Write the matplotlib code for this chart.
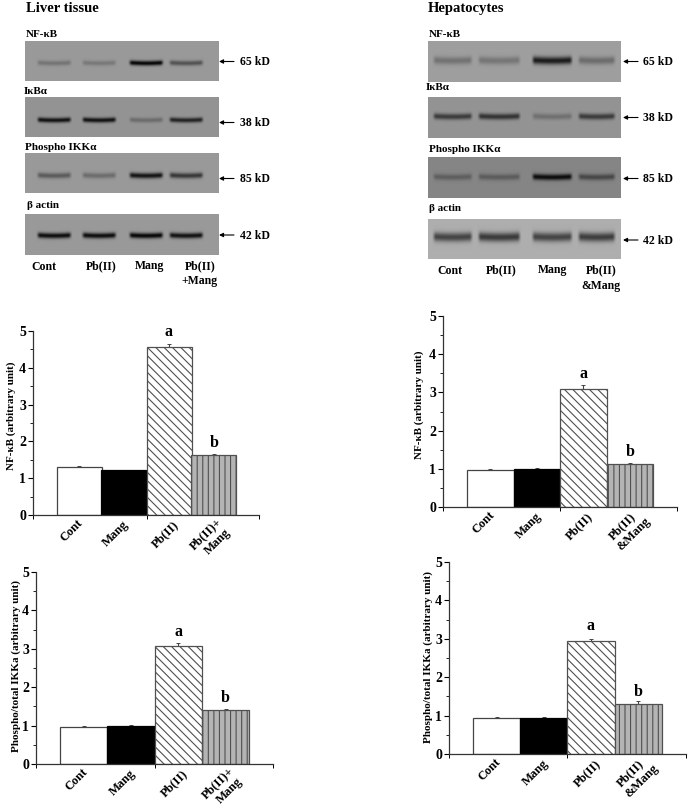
import numpy as np
import matplotlib
matplotlib.use("Agg")
import matplotlib.pyplot as plt

plt.rcParams['font.family'] = ['Liberation Serif', 'DejaVu Serif']
plt.rcParams['font.weight'] = 'bold'
plt.rcParams['hatch.linewidth'] = 0.8

W, H = 689, 809

# blot labels and band strength per lane (0 = nothing, 1 = black)
blot_names = ["NF-κB", "IκBα", "Phospho IKKα", "β actin"]
blot_kd = ["65 kD", "38 kD", "85 kD", "42 kD"]

liver_bands = [[0.25, 0.22, 1.00, 0.48],
               [0.92, 0.92, 0.28, 0.80],
               [0.42, 0.30, 0.90, 0.66],
               [0.95, 0.95, 1.00, 0.92]]
liver_bg = [0.60, 0.58, 0.60, 0.60]

hepa_bands = [[0.28, 0.26, 0.85, 0.32],
              [0.62, 0.68, 0.25, 0.62],
              [0.30, 0.32, 0.95, 0.48],
              [0.62, 0.68, 0.62, 0.66]]
hepa_bg = [0.62, 0.58, 0.52, 0.68]

# bar chart values
nfkb_liver = [1.30, 1.21, 4.57, 1.64]
nfkb_liver_err = [0.02, 0.02, 0.09, 0.02]
nfkb_hepa = [0.97, 0.99, 3.10, 1.13]
nfkb_hepa_err = [0.02, 0.02, 0.09, 0.02]
ikk_liver = [0.97, 1.00, 3.07, 1.41]
ikk_liver_err = [0.02, 0.02, 0.07, 0.03]
ikk_hepa = [0.95, 0.95, 2.95, 1.31]
ikk_hepa_err = [0.01, 0.02, 0.04, 0.07]

bar_labels_liver = ["Cont", "Mang", "Pb(II)", "Pb(II)+", "Mang"]
bar_labels_hepa = ["Cont", "Mang", "Pb(II)", "Pb(II)", "&Mang"]
blot_labels_liver = ["Cont", "Pb(II)", "Mang", "Pb(II)\n+Mang"]
blot_labels_hepa = ["Cont", "Pb(II)", "Mang", "Pb(II)\n&Mang"]

fig = plt.figure(figsize=(W / 100, H / 100), dpi=100, facecolor="white")
page = fig.add_axes([0, 0, 1, 1])
page.set_xlim(0, W)
page.set_ylim(H, 0)
page.axis("off")


def draw_blot(x0, x1, y0, y1, band_y, lanes, bands, bg, thick):
    yy, xx = np.mgrid[y0:y1:0.5, x0:x1:0.5]
    img = np.full(xx.shape, bg)
    for (a, b), s in zip(lanes, bands):
        window = np.clip((xx - a) / 3.5, 0, 1) * np.clip((b - xx) / 3.5, 0, 1)
        # slight smile across the lane, like the real bands
        mid = (a + b) / 2
        curve = ((xx - mid) / (b - a)) ** 2 * -3
        img -= (bg - 0.02) * s * window * np.exp(-((yy - band_y - curve) / thick) ** 2)
    page.imshow(img, cmap="gray", vmin=0, vmax=1, extent=(x0, x1, y1, y0),
                aspect="auto", interpolation="bilinear", zorder=1)


def draw_panel(title, title_x, x0, x1, boxes, band_ys, lanes, bands, bgs, thick,
               name_pos, kd_x, arrow_x, arrow_ys, labels, label_xs, label_y, spacing):
    page.text(title_x, 8, title, fontsize=10.5, ha="left", va="center", weight="bold")
    for i, (y0, y1) in enumerate(boxes):
        draw_blot(x0, x1, y0, y1, band_ys[i], lanes, bands[i], bgs[i], thick[i])
        page.text(name_pos[i][0], name_pos[i][1], blot_names[i], fontsize=8, ha="left", va="center")
        page.text(kd_x, arrow_ys[i] + 0.5, blot_kd[i], fontsize=8.5, ha="left", va="center")
        page.annotate("", xy=(arrow_x, arrow_ys[i]), xytext=(arrow_x + 15, arrow_ys[i]),
                      arrowprops=dict(arrowstyle="-|>", color="black", lw=0.8, mutation_scale=6,
                                      shrinkA=0, shrinkB=0))
    for lab, lx in zip(labels, label_xs):
        page.text(lx, label_y, lab, fontsize=8.5, ha="center", va="top", linespacing=spacing)
    page.set_xlim(0, W)
    page.set_ylim(H, 0)


liver_lanes = [(36, 72), (81, 117), (128, 164), (168, 204)]
draw_panel("Liver tissue", 26, 25, 219,
           [(41, 81), (97, 137), (153, 193), (214, 255)],
           [63, 120, 175.5, 235.5], liver_lanes, liver_bands, liver_bg, [2.4, 2.4, 2.7, 2.7],
           [(26, 34), (24, 91), (25, 147), (27, 205)],
           240, 219, [61.5, 122.5, 178.5, 235],
           blot_labels_liver, [44, 101, 150, 200], 260.5, 1.25)

hepa_lanes = [(432, 473), (477, 521), (531, 573), (577, 616)]
draw_panel("Hepatocytes", 428, 428, 621,
           [(41, 82), (97, 138), (157, 198), (219, 259)],
           [60.5, 116.5, 177, 237], hepa_lanes, hepa_bands, hepa_bg, [3.8, 3.0, 3.0, 4.5],
           [(429, 34), (426, 87), (429, 149), (429, 208)],
           643, 623, [61.5, 117.5, 178.5, 240],
           blot_labels_hepa, [450, 501, 553, 601], 264.5, 1.35)


def draw_chart(box, bar_left, bar_w, values, errs, labels, ylabel, ylabel_xy):
    # box is left, right, top (y = 5), bottom (y = 0), in pixels
    left, right, top, bottom = box
    ax = fig.add_axes([left / W, 1 - bottom / H, (right - left) / W, (bottom - top) / H])
    ax.patch.set_alpha(0)
    x = np.arange(1, 5)
    faces = ["white", "black", "white", "#b4b4b4"]
    hatches = [None, None, "\\\\\\\\", "|||"]
    edges = ["#444444", "black", "#505050", "#505050"]
    for i in range(4):
        ax.bar(x[i], values[i], width=1.0, color=faces[i], edgecolor=edges[i],
               hatch=hatches[i], linewidth=0.9, zorder=2)
        ax.errorbar(x[i], values[i], yerr=[[0], [errs[i]]], color="#444444", lw=0.8,
                    capsize=1.2, capthick=0.7, zorder=1)
    x_lo = 0.5 - (bar_left - left) / bar_w
    x_hi = 0.5 + (right - bar_left) / bar_w
    ax.set_xlim(x_lo, x_hi)
    ax.set_ylim(0, 5)
    ax.spines["top"].set_visible(False)
    ax.spines["right"].set_visible(False)
    for s in ["left", "bottom"]:
        ax.spines[s].set_color("#333333")
        ax.spines[s].set_linewidth(0.9)
    ax.set_yticks(range(6))
    ax.set_yticks(np.arange(0.5, 5, 1), minor=True)
    ax.tick_params(axis="y", which="major", length=3.5, width=0.8, labelsize=10, pad=1.5)
    ax.tick_params(axis="y", which="minor", length=2, width=0.6)
    ax.set_xticks([x_lo, 2.5, x_hi])
    ax.set_xticklabels([])
    ax.tick_params(axis="x", length=3, width=0.7)
    # label centres sit this many pixels away from the foot of each bar,
    # the last bar has its label on two separate lines
    label_bar = [0, 1, 2, 3, 3]
    label_dx = [-7, -8, -4, -8, 4]
    label_dy = [16, 19, 19, 19, 27]
    for i, lab in enumerate(labels):
        ax.annotate(lab, xy=(x[label_bar[i]], 0), xycoords="data",
                    xytext=(label_dx[i] * 0.72, -label_dy[i] * 0.72), textcoords="offset points",
                    rotation=45, rotation_mode="anchor", ha="center", va="center", fontsize=9)
    for i, letter, gap in [(2, "a", 14.5), (3, "b", 12)]:
        ax.annotate(letter, xy=(x[i], values[i]), xycoords="data", xytext=(0, gap * 0.72),
                    textcoords="offset points", ha="center", va="center", fontsize=11.5)
    fig.text(ylabel_xy[0] / W, 1 - ylabel_xy[1] / H, ylabel, rotation=90,
             ha="center", va="center", fontsize=8)


draw_chart((33, 259, 331, 515), 56.5, 45, nfkb_liver, nfkb_liver_err, bar_labels_liver,
           "NF-κB (arbitrary unit)", (11, 416))
draw_chart((443, 677, 316, 507), 467, 46.5, nfkb_hepa, nfkb_hepa_err, bar_labels_hepa,
           "NF-κB (arbitrary unit)", (419, 405))
draw_chart((36, 273, 572, 764), 60, 47.3, ikk_liver, ikk_liver_err, bar_labels_liver,
           "Phospho/total IKKa (arbitrary unit)", (16, 666))
draw_chart((449, 686, 562, 754), 473, 47.2, ikk_hepa, ikk_hepa_err, bar_labels_hepa,
           "Phospho/total IKKa (arbitrary unit)", (428, 657))

fig.savefig("out.png", dpi=100)
